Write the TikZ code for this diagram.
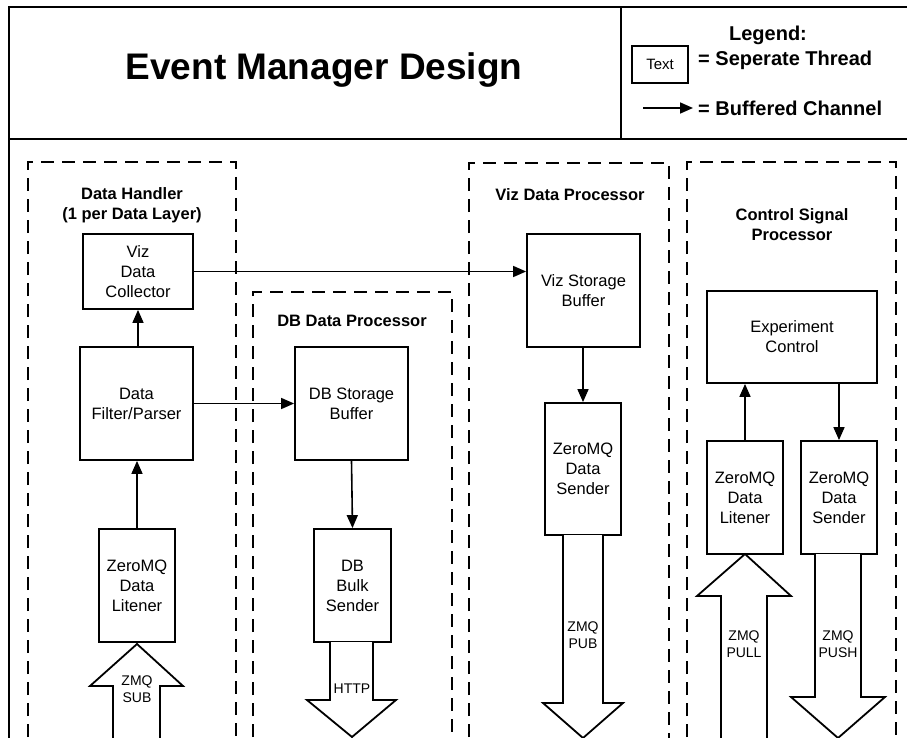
\documentclass[tikz,border=0pt]{standalone}
\usepackage{fontspec}
\setmainfont{Liberation Sans}
\usetikzlibrary{arrows.meta}
\begin{document}
\begin{tikzpicture}[x=1pt,y=-1pt,
  frame/.style={line width=1.5pt},
  thread/.style={draw,line width=1.8pt,rectangle,inner sep=0pt,align=center,
     font=\fontsize{16.5}{20}\selectfont},
  group/.style={draw,line width=1.6pt,dash pattern=on 13pt off 8pt},
  grouptitle/.style={align=center,font=\fontsize{16.5}{20}\bfseries\selectfont},
  chan/.style={line width=1.6pt,-{Triangle[length=13pt,width=11pt]}},
  blockarrow/.style={draw,line width=1.8pt,fill=white,line join=miter},
  pipe/.style={align=center,font=\fontsize{14}{17}\selectfont,inner sep=0pt}
]
\clip (0,0) rectangle (907,738);
\fill[white] (0,0) rectangle (907,738);
% outer frame
\draw[frame] (9,800) -- (9,7) -- (920,7);
\draw[frame] (9,139) -- (920,139);
\draw[frame] (621,7) -- (621,139);
\node[font=\fontsize{37}{40}\bfseries\selectfont] (title) at (324,70) {Event Manager Design};
% legend
\node[font=\fontsize{20}{24}\bfseries\selectfont] (legtitle) at (768,35) {Legend:};
\node[draw,line width=1.5pt,minimum width=56pt,minimum height=37pt,inner sep=0pt,
  font=\fontsize{15}{18}\selectfont] (legbox) at (660,64.5) {Text};
\node[anchor=west,inner sep=0pt,font=\fontsize{20}{24}\bfseries\selectfont] (legthread) at (698,60) {= Seperate Thread};
\node[anchor=west,inner sep=0pt,font=\fontsize{20}{24}\bfseries\selectfont] (legchan) at (698,108) {= Buffered Channel};
\coordinate (legstart) at (643,108);
\draw[chan,shorten >=5pt] (legstart) -- (legchan.west);
% groups
\draw[group] (28,800) -- (28,162) -- (236,162) -- (236,800);
\draw[group] (253,800) -- (253,292) -- (452,292) -- (452,800);
\draw[group] (469,800) -- (469,163) -- (669,163) -- (669,800);
\draw[group] (687,800) -- (687,162) -- (896,162) -- (896,800);
\node[grouptitle] (dhtitle) at (132,205) {Data Handler\\(1 per Data Layer)};
\node[grouptitle] (dbtitle) at (352,321) {DB Data Processor};
\node[grouptitle] (viztitle) at (570,195) {Viz Data Processor};
\node[grouptitle] (ctltitle) at (792,225) {Control Signal\\Processor};
% threads
\node[thread,minimum width=110pt,minimum height=75pt] (coll) at (138,271.5) {Viz\\Data\\Collector};
\node[thread,minimum width=113pt,minimum height=113pt] (filt) at (136.5,403.5) {Data\\Filter/Parser};
\node[thread,minimum width=76pt,minimum height=113pt] (lis1) at (137,585.5) {ZeroMQ\\Data\\Litener};
\node[thread,minimum width=113pt,minimum height=113pt] (dbbuf) at (351.5,403.5) {DB Storage\\Buffer};
\node[thread,minimum width=77pt,minimum height=113pt] (dbsend) at (352.5,585.5) {DB\\Bulk\\Sender};
\node[thread,minimum width=113pt,minimum height=113pt] (vizbuf) at (583.5,290.5) {Viz Storage\\Buffer};
\node[thread,minimum width=76pt,minimum height=132pt] (vizsend) at (583,469) {ZeroMQ\\Data\\Sender};
\node[thread,minimum width=170pt,minimum height=92pt] (exp) at (792,337) {Experiment\\Control};
\node[thread,minimum width=76pt,minimum height=113pt] (lis2) at (745,497.5) {ZeroMQ\\Data\\Litener};
\node[thread,minimum width=76pt,minimum height=113pt] (snd2) at (839,497.5) {ZeroMQ\\Data\\Sender};
% channels
\draw[chan] (lis1.north) -- (lis1.north |- filt.south);
\draw[chan] (filt.north -| coll.south) -- (coll.south);
\draw[chan] (coll.east) -- (coll.east -| vizbuf.west);
\draw[chan] (filt.east) -- (dbbuf.west);
\draw[chan] (dbbuf.south) -- (dbsend.north);
\draw[chan] (vizbuf.south -| vizsend.north) -- (vizsend.north);
\draw[chan] (lis2.north) -- (lis2.north |- exp.south);
\draw[chan] (exp.south -| snd2.north) -- (snd2.north);
% block arrows (external sockets)
\draw[blockarrow] (113,800) -- (113,686) -- (90,686) -- (137,644) -- (183,686) -- (160,686) -- (160,800);
\node[pipe] (sub) at (137,689) {ZMQ\\SUB};
\draw[blockarrow] (330,642) -- (330,700) -- (307,700) -- (352,737) -- (396,700) -- (373,700) -- (373,642);
\node[pipe] (http) at (352,689) {HTTP};
\draw[blockarrow] (563,535) -- (563,703) -- (543,703) -- (583,738) -- (623,703) -- (603,703) -- (603,535);
\node[pipe] (pub) at (583,635) {ZMQ\\PUB};
\draw[blockarrow] (721,800) -- (721,596) -- (697,596) -- (745,554) -- (791,596) -- (767,596) -- (767,800);
\node[pipe] (pull) at (744,644) {ZMQ\\PULL};
\draw[blockarrow] (815,554) -- (815,697) -- (791,697) -- (838,738) -- (885,697) -- (861,697) -- (861,554);
\node[pipe] (push) at (838,644) {ZMQ\\PUSH};
\end{tikzpicture}
\end{document}
